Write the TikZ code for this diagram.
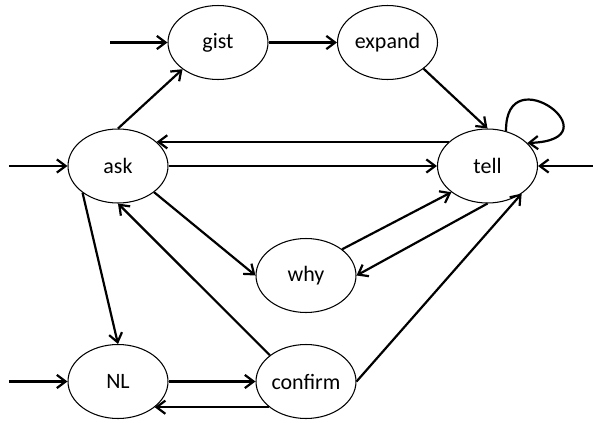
\documentclass[tikz,border=0pt]{standalone}
\usepackage{fontspec}
\setmainfont{Carlito}
\usetikzlibrary{arrows.meta, shapes.geometric}

\begin{document}
\begin{tikzpicture}[x=0.02cm, y=-0.02cm,
  state/.style={draw, ellipse, line width=0.6pt, minimum width=2cm, minimum height=1.48cm, inner sep=0pt, font=\fontsize{12.5}{15}\selectfont},
  trans/.style={line width=1.25pt, -{Straight Barb[length=5pt,width=7.5pt]}}]
\useasboundingbox (0,0) rectangle (593,423);
\node[state] (gist) at (218,42.5) {gist};
\node[state] (expand) at (387.5,42.5) {expand};
\node[state] (ask) at (118,166) {ask};
\node[state] (tell) at (487.5,166) {tell};
\node[state] (why) at (306,275.5) {why};
\node[state] (NL) at (118,381.5) {NL};
\node[state] (confirm) at (306,381.5) {confirm};
\coordinate (gistin) at (110,42.5);
\coordinate (askin) at (9,166);
\coordinate (tellin) at (593,166);
\coordinate (NLin) at (9,381.5);
\draw[trans] (gistin)--(gist);
\draw[trans] (askin)--(ask);
\draw[trans] (tellin)--(tell);
\draw[trans] (NLin)--(NL);
\draw[trans] (gist)--(expand);
\draw[trans] (ask.north)--(gist.217);
\draw[trans] (expand.-36)--(tell.north);
\draw[trans] (tell.62) .. controls (505,55) and (618,140) .. (tell.30);
\draw[trans] (tell.148)--(ask.32);
\draw[trans] (ask)--(tell);
\draw[trans] (ask.-36)--(why.west);
\draw[trans] (why.36)--(tell.216);
\draw[trans] (tell.south)--(why.east);
\draw[trans] (confirm.east)--(tell.-39);
\draw[trans] (ask.217)--(NL.north);
\draw[trans] (confirm.144)--(ask.south);
\draw[trans] (NL)--(confirm);
\draw[trans] (confirm.215)--(NL.-35);
\end{tikzpicture}
\end{document}
